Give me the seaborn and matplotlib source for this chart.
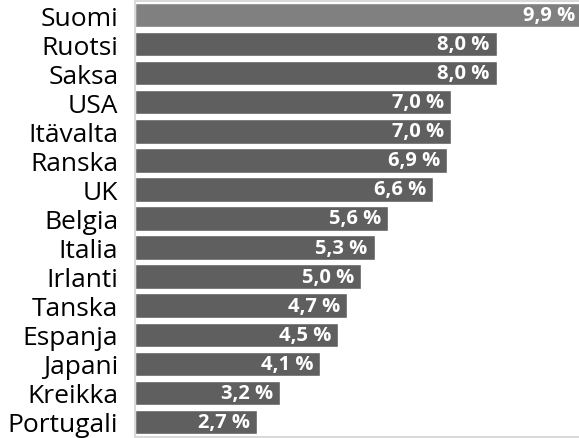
import matplotlib
matplotlib.use("Agg")
import matplotlib.pyplot as plt
import seaborn as sns
import pandas as pd

countries = ["Suomi", "Ruotsi", "Saksa", "USA", "Itävalta", "Ranska", "UK", "Belgia",
             "Italia", "Irlanti", "Tanska", "Espanja", "Japani", "Kreikka", "Portugali"]
values = [9.9, 8.0, 8.0, 7.0, 7.0, 6.9, 6.6, 5.6, 5.3, 5.0, 4.7, 4.5, 4.1, 3.2, 2.7]
value_labels = ["9,9 %", "8,0 %", "8,0 %", "7,0 %", "7,0 %", "6,9 %", "6,6 %", "5,6 %",
                "5,3 %", "5,0 %", "4,7 %", "4,5 %", "4,1 %", "3,2 %", "2,7 %"]
highlight = ["Suomi"]

df = pd.DataFrame({"country": countries, "value": values})
df["group"] = ["hl" if c in highlight else "other" for c in countries]

sns.set_theme(style="white")
plt.rcParams["font.family"] = ["Open Sans", "DejaVu Sans"]

fig = plt.figure(figsize=(5.79, 4.39), dpi=100)
W, H = 579, 439
ax = fig.add_axes([135 / W, 1.5 / H, (W - 135) / W + 0.01, (437.5 - 1.5) / H])

sns.barplot(data=df, x="value", y="country", hue="group",
            palette={"hl": "#808080", "other": "#5f5f5f"},
            order=countries, width=0.84, dodge=False, legend=False,
            saturation=1, ax=ax)

ax.set_xlim(0, 9.95)
ax.set_ylim(14.5, -0.5)
ax.set_xlabel("")
ax.set_ylabel("")
ax.set_xticks([])
ax.tick_params(axis="y", length=0, pad=12, labelsize=19, labelcolor="black")

for side in ["top", "left", "bottom"]:
    ax.spines[side].set_visible(True)
    ax.spines[side].set_color("#d9d9d9")
    ax.spines[side].set_linewidth(1.5)
ax.spines["right"].set_visible(False)

for i, (v, lab) in enumerate(zip(values, value_labels)):
    ax.annotate(lab, xy=(v, i), xytext=(-5, 0), textcoords="offset points",
                ha="right", va="center", color="white", fontsize=14.5,
                fontweight="bold")

fig.savefig("out.png", dpi=100)
